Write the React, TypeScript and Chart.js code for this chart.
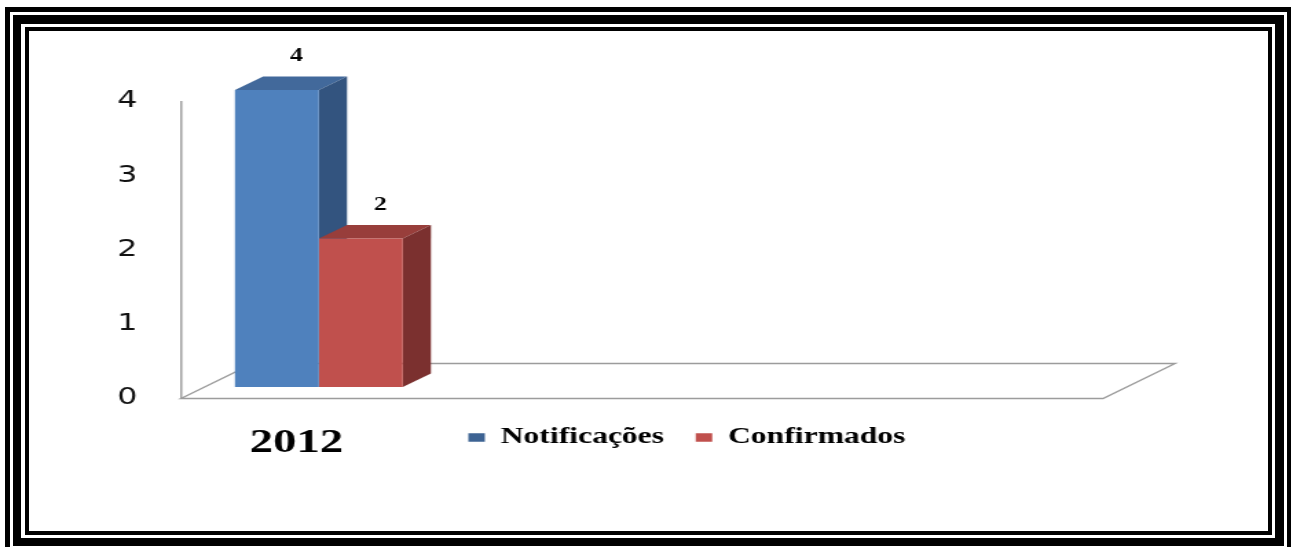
import React, { useEffect, useRef } from 'react';
import { Chart, registerables } from 'chart.js';

Chart.register(...registerables);

// ---- data ----
const categories = ['2012', '', '', ''];
const seriesNames = ['Notificações', 'Confirmados'];
const notificacoes = [4, null, null, null];
const confirmados = [2, null, null, null];
const yTickValues = [0, 1, 2, 3, 4];

// ---- styles ----
const FRONT_COLORS = ['#4F81BD', '#C0504D'];
const TOP_COLORS = ['#42699b', '#983e3b'];
const SIDE_COLORS = ['#33547f', '#7b302f'];
const LEGEND_BOX_COLORS = ['#3d6393', '#c0504d'];
const SERIF = "'Liberation Serif', 'Times New Roman', serif";
const SANS = "'DejaVu Sans', Verdana, sans-serif";

const CSS_W = 1293;
const CSS_H = 547;
const CANVAS_W = 940; // drawn narrower, then stretched horizontally like the reference image

const FLOOR_DX = 52.3;
const FLOOR_DY = 35;
const BAR_SHIFT_X = 16.4;
const BAR_SHIFT_Y = 11.5;
const DEPTH_X = 20.5;
const DEPTH_Y = 13.5;
const LABEL_DX = 14.3;
const LABEL_DY = 33.5;
const LEGEND_CENTER_X = 499.4;
const LEGEND_TOP = 403;

const FRAME = [
  { left: 5, top: 7, right: 1291, bottom: 556, bt: 5, bl: 5, br: 4, bb: 4 },
  { left: 13, top: 15, right: 1284, bottom: 546, bt: 9, bl: 8, br: 9, bb: 8 },
  { left: 25, top: 27, right: 1272, bottom: 535, bt: 4, bl: 4, br: 4, bb: 4 },
];

const bars3d = {
  id: 'bars3d',
  beforeDatasetsDraw(chart: any) {
    const { ctx, chartArea } = chart;
    const y0 = chart.scales.y.getPixelForValue(0);
    ctx.save();
    ctx.strokeStyle = '#9c9c9c';
    ctx.lineWidth = 1.4;
    ctx.beginPath();
    ctx.moveTo(chartArea.left, y0);
    ctx.lineTo(chartArea.right, y0);
    ctx.lineTo(chartArea.right + FLOOR_DX, y0 - FLOOR_DY);
    ctx.lineTo(chartArea.left + FLOOR_DX, y0 - FLOOR_DY);
    ctx.closePath();
    ctx.stroke();
    ctx.restore();

    ctx.save();
    ctx.translate(BAR_SHIFT_X, -BAR_SHIFT_Y);
    chart.data.datasets.forEach((ds: any, di: number) => {
      const meta = chart.getDatasetMeta(di);
      meta.data.forEach((el: any, i: number) => {
        if (ds.data[i] == null) return;
        const { x, y, base, width } = el.getProps(['x', 'y', 'base', 'width'], true);
        const l = x - width / 2;
        const r = x + width / 2;
        ctx.fillStyle = TOP_COLORS[di];
        ctx.beginPath();
        ctx.moveTo(l, y);
        ctx.lineTo(l + DEPTH_X, y - DEPTH_Y);
        ctx.lineTo(r + DEPTH_X, y - DEPTH_Y);
        ctx.lineTo(r, y);
        ctx.closePath();
        ctx.fill();
        ctx.fillStyle = SIDE_COLORS[di];
        ctx.beginPath();
        ctx.moveTo(r, y);
        ctx.lineTo(r + DEPTH_X, y - DEPTH_Y);
        ctx.lineTo(r + DEPTH_X, base - DEPTH_Y);
        ctx.lineTo(r, base);
        ctx.closePath();
        ctx.fill();
      });
    });
  },
  afterDatasetsDraw(chart: any) {
    const { ctx } = chart;
    chart.data.datasets.forEach((ds: any, di: number) => {
      const meta = chart.getDatasetMeta(di);
      meta.data.forEach((el: any, i: number) => {
        const v = ds.data[i];
        if (v == null) return;
        const { x, y } = el.getProps(['x', 'y'], true);
        ctx.fillStyle = '#000';
        ctx.font = `bold 19px ${SERIF}`;
        ctx.textAlign = 'center';
        ctx.textBaseline = 'middle';
        ctx.fillText(String(v), x + LABEL_DX, y - LABEL_DY);
      });
    });
    ctx.restore();
  },
};

// The legend shares its row with the category label, as in the reference.
const legendPlacer = {
  id: 'legendPlacer',
  afterLayout(chart: any) {
    const lg = chart.legend;
    if (!lg) return;
    const w = lg.right - lg.left;
    const h = lg.bottom - lg.top;
    lg.left = LEGEND_CENTER_X - w / 2;
    lg.right = lg.left + w;
    lg.top = LEGEND_TOP;
    lg.bottom = LEGEND_TOP + h;
  },
};

export default function App() {
  const ref = useRef<HTMLCanvasElement>(null);

  useEffect(() => {
    document.body.style.margin = '0';
    const canvas = ref.current!;
    const chart = new Chart(canvas, {
      type: 'bar',
      data: {
        labels: categories,
        datasets: [
          {
            label: seriesNames[0],
            data: notificacoes,
            backgroundColor: FRONT_COLORS[0],
            borderWidth: 0,
            categoryPercentage: 0.728,
            barPercentage: 1,
            clip: false,
          },
          {
            label: seriesNames[1],
            data: confirmados,
            backgroundColor: FRONT_COLORS[1],
            borderWidth: 0,
            categoryPercentage: 0.728,
            barPercentage: 1,
            clip: false,
          },
        ],
      } as any,
      options: {
        responsive: false,
        animation: false,
        devicePixelRatio: 1,
        layout: { padding: { left: 0, right: CANVAS_W - 801.9, top: 101.5, bottom: 22.5 } },
        plugins: {
          tooltip: { enabled: false },
          legend: {
            position: 'bottom',
            labels: {
              boxWidth: 12,
              boxHeight: 8.5,
              padding: 23,
              color: '#000',
              font: { family: SERIF, size: 23, weight: 'bold' },
              generateLabels: (c: any) =>
                (Chart.defaults.plugins.legend.labels as any).generateLabels(c).map((it: any, i: number) => ({
                  ...it,
                  fillStyle: LEGEND_BOX_COLORS[i],
                  strokeStyle: LEGEND_BOX_COLORS[i],
                  lineWidth: 0,
                })),
            },
          },
        },
        scales: {
          x: {
            type: 'category',
            offset: true,
            grid: { display: false, drawTicks: false },
            border: { display: false },
            ticks: {
              color: '#000',
              font: { family: SERIF, size: 34, weight: 'bold' },
              padding: 24,
              maxRotation: 0,
              autoSkip: false,
            },
            afterFit: (s: any) => {
              s.height = 70;
            },
          },
          y: {
            min: 0,
            max: 4,
            grid: { display: false, drawTicks: false },
            border: { display: true, color: '#a0a0a0', width: 1.5 },
            ticks: {
              stepSize: 1,
              color: '#111',
              font: { family: SANS, size: 23 },
              padding: 31.8,
            },
            afterBuildTicks: (s: any) => {
              s.ticks = yTickValues.map((v) => ({ value: v }));
            },
            afterFit: (s: any) => {
              s.width = 131.6;
            },
          },
        },
      } as any,
      plugins: [bars3d, legendPlacer],
    });
    return () => chart.destroy();
  }, []);

  return (
    <div style={{ position: 'relative', width: CSS_W, height: CSS_H, overflow: 'hidden', background: '#fff' }}>
      <canvas
        ref={ref}
        width={CANVAS_W}
        height={CSS_H}
        style={{ position: 'absolute', left: 0, top: 0, width: CSS_W + 'px', height: CSS_H + 'px' }}
      />
      {FRAME.map((f, i) => (
        <div
          key={i}
          style={{
            position: 'absolute',
            left: f.left,
            top: f.top,
            width: f.right - f.left,
            height: f.bottom - f.top,
            boxSizing: 'border-box',
            borderStyle: 'solid',
            borderColor: '#000',
            borderTopWidth: f.bt,
            borderLeftWidth: f.bl,
            borderRightWidth: f.br,
            borderBottomWidth: f.bb,
            pointerEvents: 'none',
          }}
        />
      ))}
    </div>
  );
}
